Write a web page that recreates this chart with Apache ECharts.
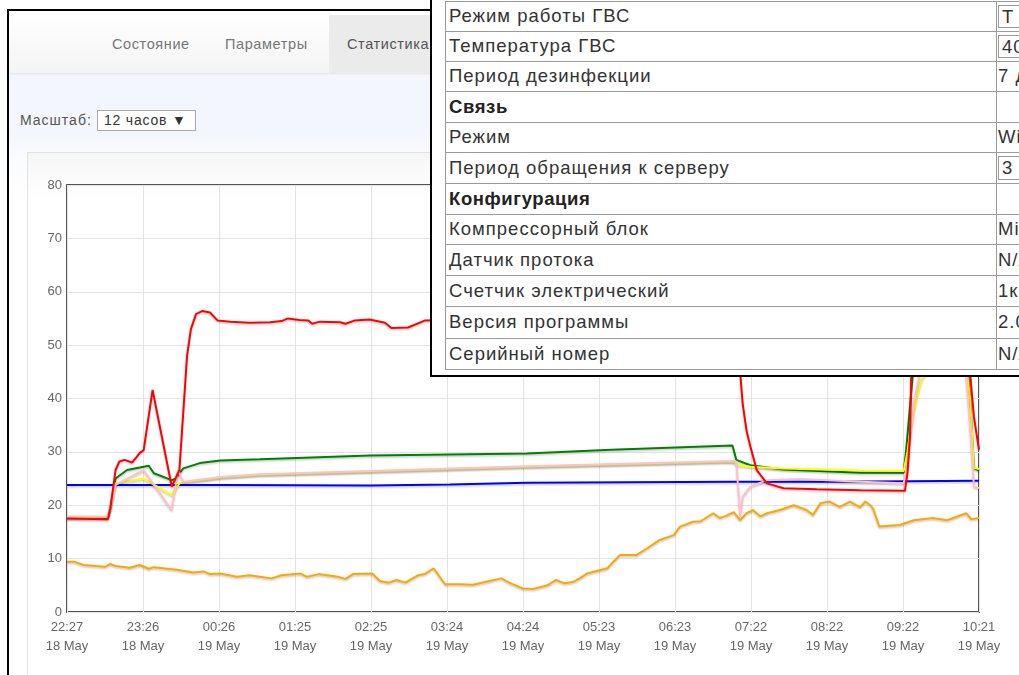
<!DOCTYPE html>
<html>
<head>
<meta charset="utf-8">
<script src="https://cdn.jsdelivr.net/npm/echarts@6/dist/echarts.min.js"></script>
<style>
  body { margin: 0; width: 1019px; height: 675px; overflow: hidden; background: #fff; position: relative;
         font-family: "Liberation Sans", Arial, sans-serif; }
  .abs { position: absolute; }
  #frame { left: 7px; top: 9px; width: 1200px; height: 800px; border-left: 2px solid #000; border-top: 2px solid #000; background: #fff; }
  #content { left: 9px; top: 73px; width: 1100px; height: 700px;
             background: linear-gradient(#f3f6fc 0px, #f3f6fc 60px, #fbfcfe 90px, #fff 130px); }
  #nav { left: 9px; top: 15px; width: 1100px; height: 58px; background: linear-gradient(#fff, #f4f4f4);
         box-shadow: 0 1px 2px rgba(0,0,0,0.08); }
  #navActive { left: 329px; top: 15px; width: 200px; height: 58px; background: #ebebeb; }
  .navItem { top: 36px; font-size: 14.5px; color: #777; letter-spacing: 0.6px; }
  #scaleLbl { left: 20px; top: 112px; font-size: 14px; color: #555; letter-spacing: 1px; }
  #scaleSel { left: 97px; top: 110px; border: 1px solid #a9a9a9; background: #fff;
              font-size: 14px; color: #333; line-height: 19px; padding-left: 6px; box-sizing: border-box;
              width: 99px; height: 21px; letter-spacing: 0.8px; }
  #panel { left: 27px; top: 152px; width: 1100px; height: 600px; border: 1px solid #e2e2e2;
           background: linear-gradient(#f6f6f6, #fff 45px); }
  #chart { left: 0; top: 0; width: 1019px; height: 675px; }
  #popup { left: 430px; top: -10px; width: 700px; height: 385px; background: #fff;
           border-left: 2px solid #000; border-bottom: 2px solid #000; }
  .cell { font-size: 18.5px; color: #333; white-space: nowrap; letter-spacing: 1px; }
  .hline { height: 1px; background: #9a9a9a; }
  .vline { width: 1px; background: #9a9a9a; }
  .box { border: 1px solid #9a9a9a; padding: 0 3px; width: 80px; }
</style>
</head>
<body>
<div id="frame" class="abs"></div>
<div id="content" class="abs"></div>
<div id="nav" class="abs"></div>
<div id="navActive" class="abs"></div>
<div class="abs navItem" style="left:112px">Состояние</div>
<div class="abs navItem" style="left:225px">Параметры</div>
<div class="abs navItem" style="left:347px;color:#555">Статистика</div>
<div id="scaleLbl" class="abs">Масштаб:</div>
<div id="scaleSel" class="abs">12 часов ▼</div>
<div id="panel" class="abs"></div>
<div id="chart" class="abs"></div>
<div id="popup" class="abs"></div>

<script>
// x: minutes since 22:27 18 May, y: temperature
const tickTimes = ['22:27', '23:26', '00:26', '01:25', '02:25', '03:24', '04:24', '05:23', '06:23', '07:22', '08:22', '09:22', '10:21']
const tickDates = ['18 May', '18 May', '19 May', '19 May', '19 May', '19 May', '19 May', '19 May', '19 May', '19 May', '19 May', '19 May', '19 May']

const orangeLine = [[0, 9.4], [6, 9.4], [13, 8.8], [23, 8.6], [30, 8.5], [34, 9.0], [38, 8.6], [49, 8.3], [57, 8.8], [64, 8.1],
  [68, 8.4], [86, 7.9], [99, 7.4], [107, 7.6], [112, 7.1], [120, 7.2], [133, 6.6], [143, 6.9], [151, 6.6], [160, 6.3],
  [168, 6.9], [183, 7.2], [188, 6.6], [197, 7.1], [212, 6.6], [218, 6.2], [224, 7.1], [239, 7.2], [245, 5.8], [252, 5.5],
  [258, 6.0], [265, 5.5], [275, 6.9], [280, 7.1], [287, 8.2], [296, 5.2], [308, 5.2], [318, 5.1], [329, 5.7], [340, 6.3],
  [347, 5.4], [357, 4.4], [365, 4.3], [376, 5.0], [383, 6.0], [389, 5.4], [396, 5.6], [402, 6.4], [407, 7.2], [423, 8.2],
  [433, 10.7], [446, 10.7], [454, 11.9], [464, 13.5], [475, 14.4], [480, 16.0], [490, 16.9], [496, 17.0], [506, 18.5],
  [511, 17.6], [516, 18.0], [522, 18.7], [527, 17.2], [532, 18.5], [537, 19.1], [543, 17.9], [548, 18.5], [558, 19.1],
  [569, 20.0], [579, 19.1], [584, 18.2], [590, 20.4], [597, 20.7], [605, 19.7], [613, 20.7], [621, 19.6], [625, 20.7],
  [629, 20.0], [631, 19.4], [636, 16.0], [652, 16.3], [663, 17.2], [678, 17.6], [689, 17.2], [704, 18.5], [708, 17.4], [714, 17.6]]

const blueLine = [[0, 23.8], [120, 23.8], [237, 23.7], [300, 23.9], [360, 24.2], [521, 24.4], [600, 24.4], [714, 24.6]]

const greenLine = [[0, 17.6], [32, 17.6], [34, 19.5], [38, 25.0], [47, 26.6], [64, 27.4], [68, 26.0], [82, 24.7], [85, 25.0],
  [91, 26.9], [104, 27.9], [120, 28.4], [151, 28.6], [237, 29.3], [360, 29.7], [426, 30.4], [521, 31.2], [524, 28.5],
  [535, 27.5], [561, 26.7], [621, 26.1], [655, 26.1], [657, 30.4], [662, 44], [667, 50], [680, 52], [703, 52], [707, 40],
  [710, 27], [714, 26.5]]

const yellowLine = [[0, 17.8], [32, 17.8], [34, 19.5], [38, 24.1], [60, 25.0], [82, 21.9], [88, 24.1], [120, 25.2], [151, 25.7],
  [237, 26.3], [360, 27.2], [521, 28.2], [526, 27.5], [535, 27.2], [561, 26.9], [621, 26.5], [655, 26.4], [658, 30], [661, 35],
  [665, 40], [669, 43.5], [676, 46], [690, 48], [703, 48.5], [707, 40], [710, 27], [714, 26.8]]

const pinkLine = [[0, 17.9], [32, 17.9], [34, 19.5], [38, 23.8], [47, 25.0], [60, 26.6], [82, 19.1], [87, 26.6], [91, 24.4],
  [120, 25.3], [151, 25.8], [237, 26.4], [360, 27.3], [521, 28.3], [524, 28.2], [527, 17.9], [529, 21.6], [535, 23.5],
  [548, 24.7], [574, 24.9], [621, 24.4], [655, 24.1], [658, 27.2], [663, 39.1], [668, 45], [680, 47], [703, 47], [707, 35],
  [710, 23.5], [714, 23.2]]

const redLine = [[0, 17.5], [32, 17.4], [34, 19.5], [38, 26.6], [41, 28.2], [45, 28.5], [51, 28.0], [57, 29.8], [60, 30.3],
  [67, 41.6], [82, 23.5], [88, 26.6], [94, 48], [97, 53], [101, 55.8], [106, 56.4], [112, 56.1], [118, 54.6], [128, 54.4],
  [143, 54.2], [159, 54.3], [168, 54.5], [173, 55.0], [182, 54.7], [189, 54.6], [192, 54.0], [198, 54.4], [214, 54.3],
  [218, 54.0], [225, 54.6], [237, 54.8], [249, 54.2], [254, 53.2], [267, 53.3], [280, 54.6], [340, 55.0], [420, 55.4],
  [500, 55.6], [524, 55.6], [527, 45], [529, 39], [532, 34], [535, 31], [540, 26.6], [548, 24.1], [561, 23.2], [587, 23.0],
  [621, 22.8], [656, 22.7], [658, 26], [660, 33], [661, 45], [665, 54], [676, 56], [703, 56], [706, 48], [708, 42],
  [710, 36.6], [714, 30.4]]

// popup table (label, value, bold, boxed)
const tableRows = [
  ['Режим работы ГВС', 'Т', false, true],
  ['Температура ГВС', '40', false, true],
  ['Период дезинфекции', '7 д', false, false],
  ['Связь', '', true, false],
  ['Режим', 'Wi', false, false],
  ['Период обращения к серверу', '3', false, true],
  ['Конфигурация', '', true, false],
  ['Компрессорный блок', 'Mi', false, false],
  ['Датчик протока', 'N/A', false, false],
  ['Счетчик электрический', '1к', false, false],
  ['Версия программы', '2.0', false, false],
  ['Серийный номер', 'N/A', false, false]
]
const rowLines = [1, 31, 61, 91, 122, 152, 183, 214, 244, 275, 306, 338, 369]

function buildPopup() {
  const popup = document.getElementById('popup')
  const ox = 432, oy = -10
  let html = ''
  rowLines.forEach(y => {
    html += `<div class="abs hline" style="left:${445 - ox}px;top:${y - oy}px;width:700px"></div>`
  })
  html += `<div class="abs vline" style="left:${445 - ox}px;top:${1 - oy}px;height:369px"></div>`
  html += `<div class="abs vline" style="left:${996 - ox}px;top:${1 - oy}px;height:369px"></div>`
  tableRows.forEach((r, i) => {
    const top = rowLines[i], h = rowLines[i + 1] - rowLines[i]
    const style = `top:${top - oy}px;height:${h}px;line-height:${h}px;`
    html += `<div class="abs cell" style="left:${449 - ox}px;${style}${r[2] ? 'font-weight:bold;color:#222;letter-spacing:0.6px;' : ''}">${r[0]}</div>`
    if (r[1]) {
      if (r[3]) {
        html += `<div class="abs cell box" style="left:${998 - ox}px;top:${top + 4 - oy}px;height:${h - 9}px;line-height:${h - 9}px;">${r[1]}</div>`
      } else {
        html += `<div class="abs cell" style="left:${998 - ox}px;${style}">${r[1]}</div>`
      }
    }
  })
  popup.innerHTML = html
}
buildPopup()

const chart = echarts.init(document.getElementById('chart'))

function line(name, color, data) {
  return {
    name: name,
    type: 'line',
    data: data,
    showSymbol: false,
    color: color,
    lineStyle: {
      color: color,
      width: 2,
      shadowColor: 'rgba(0,0,0,0.22)',
      shadowBlur: 2,
      shadowOffsetY: 1.5
    }
  }
}

chart.setOption({
  animation: false,
  backgroundColor: 'transparent',
  grid: {
    left: 67,
    top: 185,
    width: 912,
    height: 427,
    show: true,
    borderColor: '#555',
    borderWidth: 2,
    backgroundColor: 'transparent'
  },
  xAxis: {
    type: 'value',
    min: 0,
    max: 714,
    interval: 59.5,
    axisLine: { show: false },
    axisTick: { show: false },
    splitLine: { show: true, lineStyle: { color: '#e3e3e3', width: 1 } },
    axisLabel: {
      color: '#666',
      fontSize: 13,
      fontFamily: 'Liberation Sans',
      lineHeight: 19,
      margin: 6,
      showMinLabel: true,
      showMaxLabel: true,
      formatter: v => {
        const i = Math.round(v / 59.5)
        return tickTimes[i] + '\n' + tickDates[i]
      }
    }
  },
  yAxis: {
    type: 'value',
    min: 0,
    max: 80,
    interval: 10,
    axisLine: { show: false },
    axisTick: { show: false },
    splitLine: { show: true, lineStyle: { color: '#e3e3e3', width: 1 } },
    axisLabel: { color: '#666', fontSize: 13, fontFamily: 'Liberation Sans', margin: 5 }
  },
  series: [
    line('orange', '#ffa500', orangeLine),
    line('blue', '#0000ff', blueLine),
    line('green', '#008000', greenLine),
    line('yellow', '#ffff00', yellowLine),
    line('pink', '#ffc0cb', pinkLine),
    line('red', '#ff0000', redLine)
  ]
})
</script>
</body>
</html>
